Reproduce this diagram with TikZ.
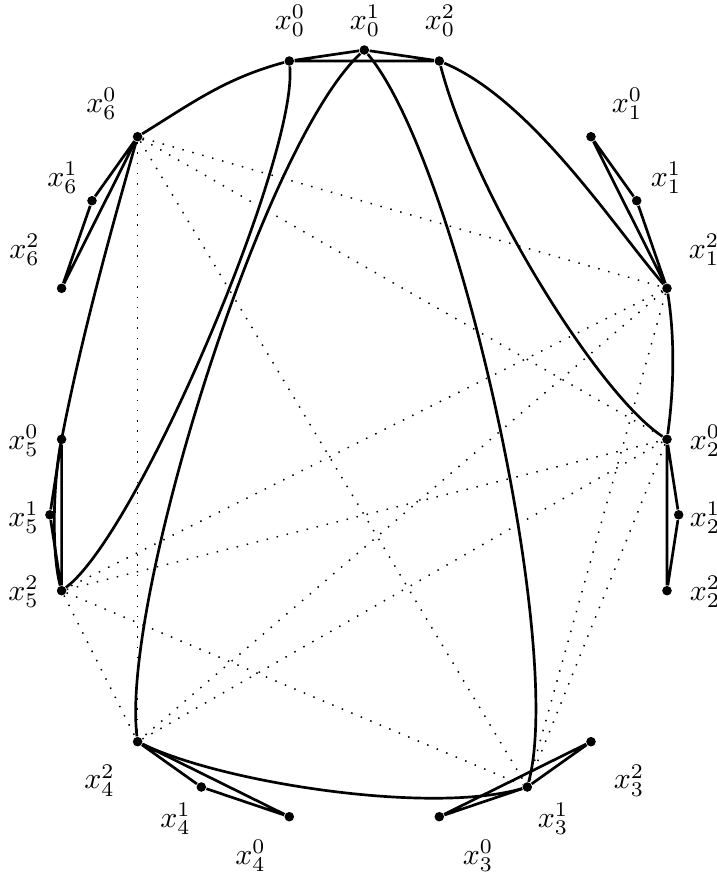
\documentclass[tikz,border=0pt]{standalone}
\usepackage{amsmath}
\usepackage{tikz}
\tikzset{
  vtx/.style={circle, fill=black, inner sep=0pt, minimum size=3.2pt},
  ln/.style={line width=0.9pt},
  dotln/.style={line width=0.5pt, dash pattern=on 0.5pt off 2.95pt},
}

\begin{document}
\begin{tikzpicture}[x=0.335pt, y=-0.335pt]
    \useasboundingbox (0,0) rectangle (717,873);
    % the seven triangles
    \node[vtx] (x00) at (289.3,61) {};
    \node[vtx] (x01) at (364.3,50) {};
    \node[vtx] (x02) at (439.3,61) {};
    \node[vtx] (x10) at (591,136.7) {};
    \node[vtx] (x11) at (636.7,200.7) {};
    \node[vtx] (x12) at (667,288.3) {};
    \node[vtx] (x20) at (667,439.3) {};
    \node[vtx] (x21) at (678.7,514.8) {};
    \node[vtx] (x22) at (667,590.7) {};
    \node[vtx] (x30) at (439.3,816.7) {};
    \node[vtx] (x31) at (527.3,787) {};
    \node[vtx] (x32) at (591,741.7) {};
    \node[vtx] (x40) at (289.3,816.7) {};
    \node[vtx] (x41) at (201.3,787) {};
    \node[vtx] (x42) at (137.6,741.7) {};
    \node[vtx] (x50) at (61.6,439.3) {};
    \node[vtx] (x51) at (49.9,514.8) {};
    \node[vtx] (x52) at (61.6,590.7) {};
    \node[vtx] (x60) at (137.6,136.7) {};
    \node[vtx] (x61) at (92,200.7) {};
    \node[vtx] (x62) at (61.6,288.3) {};

    \node (l00) at (290,21) {$x_0^0$};
    \node (l01) at (365,21) {$x_0^1$};
    \node (l02) at (440,21) {$x_0^2$};
    \node (l10) at (627,104) {$x_1^0$};
    \node (l11) at (666,178) {$x_1^1$};
    \node (l12) at (704,250) {$x_1^2$};
    \node (l20) at (705,441) {$x_2^0$};
    \node (l21) at (705,518) {$x_2^1$};
    \node (l22) at (705,592) {$x_2^2$};
    \node (l30) at (478,856) {$x_3^0$};
    \node (l31) at (553,819) {$x_3^1$};
    \node (l32) at (629,780.5) {$x_3^2$};
    \node (l40) at (250.6,856) {$x_4^0$};
    \node (l41) at (175.6,819) {$x_4^1$};
    \node (l42) at (99.6,780.5) {$x_4^2$};
    \node (l50) at (23.6,441) {$x_5^0$};
    \node (l51) at (23.6,518) {$x_5^1$};
    \node (l52) at (23.6,592) {$x_5^2$};
    \node (l60) at (101.6,104) {$x_6^0$};
    \node (l61) at (62.6,178) {$x_6^1$};
    \node (l62) at (24.6,250) {$x_6^2$};

    \draw[ln] (x00) -- (x01) -- (x02) -- (x00);
    \draw[ln] (x10) -- (x11) -- (x12) -- (x10);
    \draw[ln] (x20) -- (x21) -- (x22) -- (x20);
    \draw[ln] (x30) -- (x31) -- (x32) -- (x30);
    \draw[ln] (x40) -- (x41) -- (x42) -- (x40);
    \draw[ln] (x50) -- (x51) -- (x52) -- (x50);
    \draw[ln] (x60) -- (x61) -- (x62) -- (x60);

    % long curves
    \draw[ln] (x00) .. controls (225.6,78.3) and (193.7,101.9) .. (x60);
    \draw[ln] (x02) .. controls (532,100) and (614.5,227.6) .. (x12);
    \draw[ln] (x02) .. controls (475,197) and (600,396) .. (x20);
    \draw[ln] (x12) .. controls (675,338) and (674,389) .. (x20);
    \draw[ln] (x42) .. controls (223,783) and (431.3,815) .. (x31);
    \draw[ln] (x01) .. controls (457.5,161) and (565,647) .. (x31);
    \draw[ln] (x01) .. controls (261.9,145.5) and (120.6,602.5) .. (x42);
    \draw[ln] (x00) .. controls (298.1,155.6) and (138.2,533.5) .. (x52);
    \draw[ln] (x60) .. controls (104,255) and (80,345) .. (x50.center)
                    .. controls (53.3,478) and (51.1,552.3) .. (x52);

    % dotted ones
    \draw[dotln] (x60) -- (x12);
    \draw[dotln] (x60) -- (x20);
    \draw[dotln] (x60) -- (x31);
    \draw[dotln] (x60) -- (x42);
    \draw[dotln] (x12) -- (x52);
    \draw[dotln] (x12) -- (x42);
    \draw[dotln] (x12) -- (x31);
    \draw[dotln] (x52) -- (x20);
    \draw[dotln] (x52) -- (x31);
    \draw[dotln] (x52) -- (x42);
    \draw[dotln] (x20) -- (x42);
    \draw[dotln] (x20) -- (x31);
\end{tikzpicture}
\end{document}
